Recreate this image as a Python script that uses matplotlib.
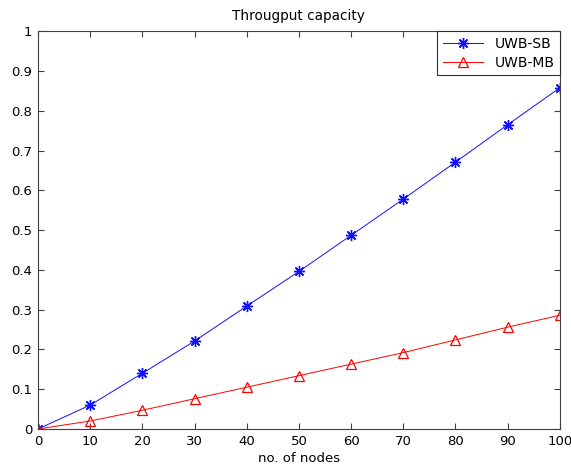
import matplotlib
matplotlib.use('Agg')
import matplotlib.pyplot as plt

nodes = [0, 10, 20, 30, 40, 50, 60, 70, 80, 90, 100]
uwb_sb = [0.0, 0.06, 0.14, 0.221, 0.309, 0.396, 0.487, 0.578, 0.671, 0.765, 0.858]
uwb_mb = [0.0, 0.02, 0.047, 0.076, 0.105, 0.134, 0.163, 0.192, 0.224, 0.256, 0.286]

fig = plt.figure(figsize=(5.71, 4.74), dpi=100)
ax = fig.add_axes([0.0665, 0.095, 0.914, 0.839])

# matlab style asterisk marker
ax.plot(nodes, uwb_sb, color='#1010ff', marker=(8, 2, 0), markersize=8, markeredgewidth=1.0,
        linewidth=0.7, label='UWB-SB')
ax.plot(nodes, uwb_mb, color='red', marker='^', markersize=7, markerfacecolor='none',
        markeredgewidth=0.9, linewidth=0.7, label='UWB-MB')

ax.set_xlim(0, 100)
ax.set_ylim(0, 1)
ax.set_xticks(range(0, 101, 10))
ax.set_yticks([i / 10 for i in range(11)])
ax.set_yticklabels(['0', '0.1', '0.2', '0.3', '0.4', '0.5', '0.6', '0.7', '0.8', '0.9', '1'])
ax.tick_params(direction='in', top=True, right=True, labelsize=9.5, length=4,
               color='#404040', pad=4)
for s in ax.spines.values():
    s.set_color('#404040')

ax.set_title('Througput capacity', fontsize=9.8, pad=8)
ax.set_xlabel('no. of nodes', fontsize=9.5, labelpad=3)

leg = ax.legend(loc='upper right', fontsize=10, fancybox=False, framealpha=1,
                edgecolor='#303030', borderaxespad=0, handlelength=2.9,
                borderpad=0.4, labelspacing=0.35, handletextpad=0.8)
leg.get_frame().set_linewidth(0.8)

fig.savefig('out.png', dpi=100)
